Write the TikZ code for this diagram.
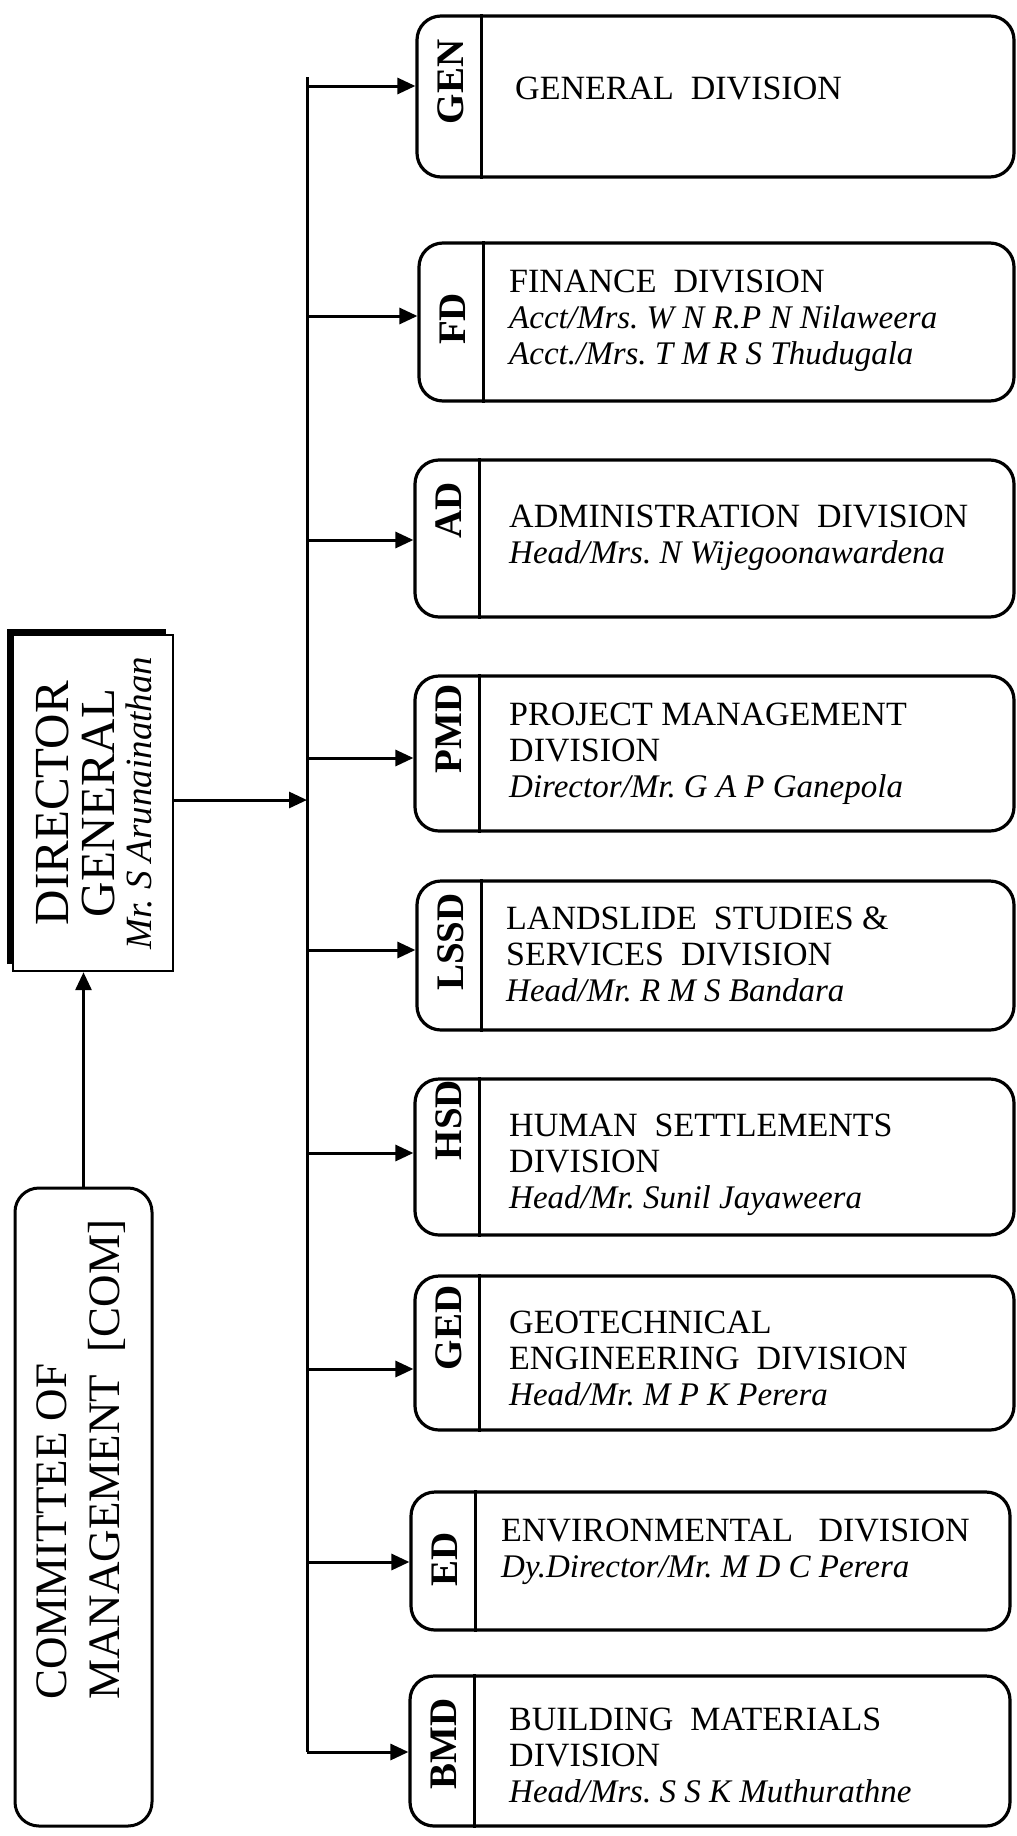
\documentclass[tikz,border=0pt]{standalone}
\usepackage{fontspec}
\setmainfont{Liberation Serif}
\usetikzlibrary{arrows.meta}
\frenchspacing
\newcommand\itl{\fontsize{33}{36}\selectfont\itshape}
\begin{document}
\begin{tikzpicture}[x=1pt,y=-1pt,
  divbox/.style={draw, line width=3.2pt, rounded corners=24pt, inner sep=0},
  divline/.style={line width=2.2pt},
  tabtxt/.style={rotate=90, font=\fontsize{39}{40}\selectfont\bfseries, inner sep=0},
  bodytxt/.style={anchor=west, align=left, font=\fontsize{34}{36}\selectfont, inner sep=0},
  link/.style={line width=3pt, -{Triangle[length=18pt,width=16pt]}},
  bigtxt/.style={rotate=90, inner sep=0},
]
\useasboundingbox (0,0) rectangle (1017,1836);

% Director General
\node[draw, line width=2.4pt, minimum width=160pt, minimum height=336pt, inner sep=0] (dg) at (93,803) {};
\draw[line width=6pt] ([shift={(-2pt,8pt)}]dg.south west) -- ([shift={(-2pt,2pt)}]dg.north west) -- ([shift={(-8pt,2pt)}]dg.north east);
\node[bigtxt, align=center, font=\fontsize{49}{46}\selectfont] (dgtxt) at (94,803)
  {DIRECTOR\\GENERAL\\[-9pt]{\fontsize{37}{36}\selectfont\itshape Mr. S Arunainathan}};

% Committee of management
\node[draw, line width=3pt, rounded corners=24pt, minimum width=137pt, minimum height=638pt, inner sep=0] (com) at (83.5,1507) {};
\node[bigtxt, align=left, anchor=north west, font=\fontsize{45}{53}\selectfont] (comtxt) at (37,1700)
  {COMMITTEE OF\\MANAGEMENT~ [COM]};

% bus
\coordinate (busTop) at (307,77);
\coordinate (bGEN) at (307,86);
\coordinate (bFD) at (307,316);
\coordinate (bAD) at (307,540);
\coordinate (bPMD) at (307,758);
\coordinate (bLSSD) at (307,950);
\coordinate (bHSD) at (307,1153);
\coordinate (bGED) at (307,1369);
\coordinate (bED) at (307,1562);
\coordinate (bBMD) at (307,1752);
\coordinate (dgIn) at (307,800);
\draw[line width=3pt] (busTop) -- (bBMD);

% division boxes
\node[divbox, minimum width=597pt, minimum height=161pt] (gen) at (715.5,96.5) {};
\node[divbox, minimum width=595pt, minimum height=158pt] (fd) at (716.5,322) {};
\node[divbox, minimum width=599pt, minimum height=157pt] (ad) at (714.5,538.5) {};
\node[divbox, minimum width=599pt, minimum height=155pt] (pmd) at (714.5,753.5) {};
\node[divbox, minimum width=597pt, minimum height=149pt] (lssd) at (715.5,955.5) {};
\node[divbox, minimum width=599pt, minimum height=156pt] (hsd) at (714.5,1157) {};
\node[divbox, minimum width=599pt, minimum height=154pt] (ged) at (714.5,1353) {};
\node[divbox, minimum width=599pt, minimum height=138pt] (ed) at (710.5,1561) {};
\node[divbox, minimum width=600pt, minimum height=150pt] (bmd) at (710,1751) {};

\foreach \b in {gen,fd,ad,pmd,lssd,hsd,ged,ed,bmd}
  \draw[divline] ([xshift=66pt]\b.north west) -- ([xshift=66pt]\b.south west);

% tab labels
\node[tabtxt] (tGEN) at (451,82) {GEN};
\node[tabtxt] (tFD) at (453,319) {FD};
\node[tabtxt] (tAD) at (449,510) {AD};
\node[tabtxt] (tPMD) at (449,729) {PMD};
\node[tabtxt] (tLSSD) at (451,942) {LSSD};
\node[tabtxt] (tHSD) at (449,1120) {HSD};
\node[tabtxt] (tGED) at (449,1328) {GED};
\node[tabtxt] (tED) at (445,1559) {ED};
\node[tabtxt] (tBMD) at (444,1744) {BMD};

% body texts
\node[bodytxt] (xGEN) at (515,89) {GENERAL~ DIVISION};
\node[bodytxt] (xFD) at (509,321) {FINANCE~ DIVISION\\\itl Acct/Mrs. W N R.P N Nilaweera\\\itl Acct./Mrs. T M R S Thudugala};
\node[bodytxt] (xAD) at (509,538) {ADMINISTRATION~ DIVISION\\\itl Head/Mrs. N Wijegoonawardena};
\node[bodytxt] (xPMD) at (509,754) {PROJECT MANAGEMENT\\DIVISION\\\itl Director/Mr. G A P Ganepola};
\node[bodytxt] (xLSSD) at (506,954) {LANDSLIDE~ STUDIES \&\\SERVICES~ DIVISION\\\itl Head/Mr. R M S Bandara};
\node[bodytxt] (xHSD) at (509,1165) {HUMAN~ SETTLEMENTS\\DIVISION\\\itl Head/Mr. Sunil Jayaweera};
\node[bodytxt] (xGED) at (509,1358) {GEOTECHNICAL\\ENGINEERING~ DIVISION\\\itl Head/Mr. M P K Perera};
\node[bodytxt] (xED) at (501,1552) {ENVIRONMENTAL~~ DIVISION\\\itl Dy.Director/Mr. M D C Perera};
\node[bodytxt] (xBMD) at (509,1755) {BUILDING~ MATERIALS\\DIVISION\\\itl Head/Mrs. S S K Muthurathne};

% connectors
\draw[link] (com.north) -- (com.north |- dg.south);
\draw[link] (dgIn -| dg.east) -- (dgIn);
\foreach \c/\b in {bGEN/gen,bFD/fd,bAD/ad,bPMD/pmd,bLSSD/lssd,bHSD/hsd,bGED/ged,bED/ed,bBMD/bmd}
  \draw[link] (\c) -- (\c -| \b.west);
\end{tikzpicture}
\end{document}
